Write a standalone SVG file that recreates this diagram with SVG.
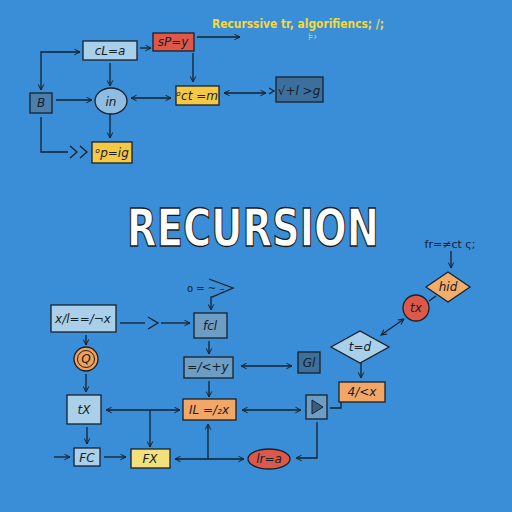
<svg xmlns="http://www.w3.org/2000/svg" width="512" height="512" viewBox="0 0 512 512">
<defs>
<marker id="ah" viewBox="0 0 10 10" refX="9" refY="5" markerWidth="7" markerHeight="7" orient="auto-start-reverse" markerUnits="userSpaceOnUse">
<path d="M1,1 L9,5 L1,9" fill="none" stroke="#15202b" stroke-width="1.4"/>
</marker>
<style>
.n{stroke:#17212c;stroke-width:1.3}
.lb{fill:#a9cfe9}.rd{fill:#dd5848}.yl{fill:#f6c945}.db{fill:#4a7fab}.dk{fill:#3d6f9d}.mb{fill:#6d9dc3}.or{fill:#f2a766}.fx{fill:#f4e07a}
.t{font-family:"DejaVu Sans",sans-serif;font-size:12px;fill:#15202b;text-anchor:middle;font-style:italic}
.c path,.c line,.c polyline{fill:none;stroke:#15202b;stroke-width:1.3}
</style>
</defs>
<rect width="512" height="512" fill="#3a8ed8"/>

<text x="212" y="28" font-family="DejaVu Sans,sans-serif" font-size="12" font-weight="bold" fill="#f4d83a" textLength="172" lengthAdjust="spacingAndGlyphs">Recurssive tr, algorifiencs; /;</text>
<text x="308" y="40" font-family="DejaVu Sans,sans-serif" font-size="10" fill="#a8d4f5">⊧›</text>

<text transform="translate(253,246) scale(1,1.27)" x="0" y="0" font-family="DejaVu Sans,sans-serif" font-size="40" font-weight="bold" fill="#ffffff" stroke="#1a1a1a" stroke-width="1" text-anchor="middle" textLength="252" lengthAdjust="spacingAndGlyphs">RECURSION</text>

<g class="c">
<line x1="140" y1="48" x2="151" y2="48" marker-end="url(#ah)"/>
<line x1="197" y1="37" x2="240" y2="37" marker-end="url(#ah)"/>
<polyline points="80,52 41,52 41,90" marker-start="url(#ah)" marker-end="url(#ah)"/>
<line x1="56" y1="100" x2="92" y2="100" marker-end="url(#ah)"/>
<line x1="110" y1="63" x2="110" y2="86" marker-end="url(#ah)"/>
<line x1="110" y1="114" x2="110" y2="138" marker-end="url(#ah)"/>
<polyline points="41,117 41,152 68,152"/>
<path d="M70,146 L77,152 L70,158 M80,146 L87,152 L80,158"/>
<line x1="131" y1="98" x2="171" y2="98" marker-start="url(#ah)" marker-end="url(#ah)"/>
<line x1="193" y1="53" x2="193" y2="82" marker-end="url(#ah)"/>
<line x1="224" y1="93" x2="266" y2="93" marker-start="url(#ah)" marker-end="url(#ah)"/>
<path d="M269,88 L274,91 L269,94"/>

<line x1="120" y1="323" x2="145" y2="323"/>
<path d="M148,317 L158,323 L148,329"/>
<line x1="161" y1="323" x2="190" y2="323" marker-end="url(#ah)"/>
<polyline points="209,279 233,288 212,297 211,297 211,310" marker-end="url(#ah)"/>
<line x1="209" y1="341" x2="209" y2="354" marker-end="url(#ah)"/>
<line x1="241" y1="366" x2="292" y2="366" marker-start="url(#ah)" marker-end="url(#ah)"/>
<line x1="209" y1="381" x2="209" y2="397" marker-end="url(#ah)"/>
<line x1="242" y1="410" x2="301" y2="410" marker-start="url(#ah)" marker-end="url(#ah)"/>
<polyline points="330,408 341,408 341,402"/>
<line x1="361" y1="363" x2="361" y2="378" marker-end="url(#ah)"/>
<line x1="381" y1="335" x2="404" y2="319" marker-start="url(#ah)" marker-end="url(#ah)"/>
<line x1="429" y1="301" x2="436" y2="296"/>
<line x1="451" y1="251" x2="451" y2="268" marker-end="url(#ah)"/>
<polyline points="317,422 317,458 296,458" marker-end="url(#ah)"/>

<line x1="86" y1="335" x2="86" y2="345" marker-end="url(#ah)"/>
<line x1="86" y1="374" x2="86" y2="392" marker-end="url(#ah)"/>
<line x1="106" y1="410" x2="180" y2="410" marker-start="url(#ah)" marker-end="url(#ah)"/>
<line x1="150" y1="410" x2="150" y2="447" marker-end="url(#ah)"/>
<line x1="87" y1="427" x2="87" y2="444" marker-end="url(#ah)"/>
<line x1="54" y1="457" x2="70" y2="457" marker-end="url(#ah)"/>
<line x1="104" y1="457" x2="126" y2="457" marker-end="url(#ah)"/>
<line x1="175" y1="459" x2="244" y2="459" marker-start="url(#ah)" marker-end="url(#ah)"/>
<line x1="208" y1="459" x2="208" y2="424" marker-end="url(#ah)"/>
</g>

<g id="n-cla"><rect class="n lb" x="83" y="41" width="54" height="19"/><text class="t" x="110" y="55">cL=a</text></g>
<g id="n-spy"><rect class="n rd" x="153" y="33" width="41" height="18"/><text class="t" x="173" y="46" font-size="11">sP=y</text></g>
<g id="n-b"><rect class="n db" x="30" y="93" width="22" height="20"/><text class="t" x="41" y="107">B</text></g>
<g id="n-in"><ellipse class="n" cx="111" cy="101" rx="16" ry="13" fill="#8fbde0"/><text class="t" x="111" y="106" font-size="13">in</text></g>
<g id="n-opig"><rect class="n yl" x="92" y="142" width="40" height="21"/><text class="t" x="112" y="157" font-style="normal">ᵒp=ig</text></g>
<g id="n-octm"><rect class="n yl" x="176" y="86" width="43" height="19"/><text class="t" x="197" y="100" font-style="normal">ᵒct =m</text></g>
<g id="n-sqrt"><rect class="n dk" x="276" y="77" width="47" height="25"/><text class="t" x="299" y="95" font-style="normal">√+l &gt;g</text></g>

<g id="n-xl"><rect class="n lb" x="51" y="305" width="65" height="27"/><text class="t" x="83" y="323" font-style="normal">x/l==/¬x</text></g>
<text x="187" y="292" font-family="DejaVu Sans,sans-serif" font-size="10" fill="#15202b">o = ~ –</text>
<g id="n-fcl"><rect class="n mb" x="194" y="313" width="33" height="25"/><text class="t" x="210" y="330">fcl</text></g>
<g id="n-lcy"><rect class="n mb" x="184" y="357" width="49" height="21"/><text class="t" x="208" y="371">=/&lt;+y</text></g>
<g id="n-gl"><rect class="n dk" x="298" y="352" width="22" height="21"/><text class="t" x="309" y="367">Gl</text></g>
<g id="n-il"><rect class="n or" x="183" y="399" width="53" height="21"/><text class="t" x="209" y="414">IL =/₂x</text></g>
<g id="n-play"><rect class="n mb" x="306" y="395" width="21" height="24"/><path d="M312,400 L323,407 L312,414 Z" fill="#3a5f80" stroke="#17212c" stroke-width="1"/></g>
<g id="n-4x"><rect class="n or" x="339" y="382" width="46" height="20"/><text class="t" x="362" y="396" font-style="normal">4/&lt;x</text></g>
<g id="n-td"><path class="n" d="M331,347 L360,331 L389,347 L360,363 Z" fill="#a9cfe9"/><text class="t" x="360" y="351" font-style="normal">t=d</text></g>
<g id="n-tx1"><circle class="n rd" cx="416" cy="308" r="13"/><text class="t" x="416" y="312" font-style="normal">tx</text></g>
<g id="n-hid"><path class="n" d="M426,287 L448,272 L470,287 L448,302 Z" fill="#f3ad6b"/><text class="t" x="448" y="291">hid</text></g>
<text x="450" y="248" font-family="DejaVu Sans,sans-serif" font-size="11" fill="#15202b" text-anchor="middle">fr=≠ct ς;</text>
<g id="n-lra"><ellipse class="n rd" cx="269" cy="459" rx="21" ry="10"/><text class="t" x="269" y="463">lr=a</text></g>

<g id="n-q"><circle class="n" cx="86" cy="359" r="12" fill="#f2a058"/><circle cx="86" cy="359" r="8.5" fill="none" stroke="#17212c" stroke-width="1"/><text class="t" x="86" y="363" font-size="11">Q</text></g>
<g id="n-tx2"><rect class="n lb" x="67" y="395" width="34" height="29"/><text class="t" x="84" y="414">tX</text></g>
<g id="n-fc"><rect class="n lb" x="74" y="448" width="26" height="18"/><text class="t" x="87" y="462">FC</text></g>
<g id="n-fx"><rect class="n fx" x="131" y="449" width="39" height="19"/><text class="t" x="150" y="463">FX</text></g>
</svg>
